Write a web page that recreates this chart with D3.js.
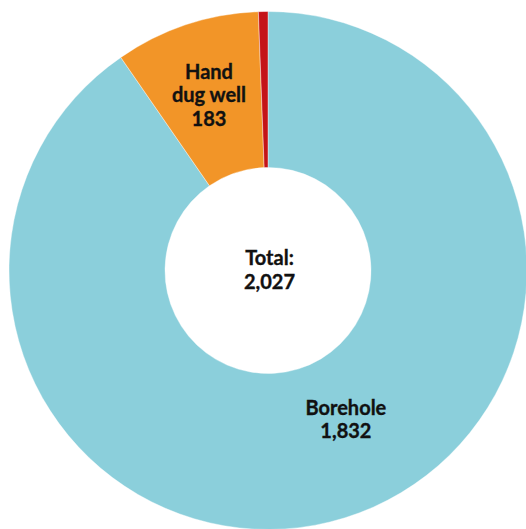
<!DOCTYPE html>
<html>
<head>
<meta charset="utf-8">
<script src="https://cdn.jsdelivr.net/npm/d3@7"></script>
<style>
  html, body { margin: 0; padding: 0; background: #fff; }
  svg { display: block; }
  text { font-family: Lato, "Liberation Sans", sans-serif; font-weight: 700; fill: #111; stroke: #111; stroke-width: 0.35; }
</style>
</head>
<body>
<svg id="chart" width="526" height="529"></svg>
<script>
// Water point sources
const categories = ["Borehole", "Hand dug well", "Other"];
const values = [1832, 183, 12];
const labelLines = [["Borehole", "1,832"], ["Hand", "dug well", "183"], []];
const colors = ["#8bcfdb", "#f29528", "#c41418"];
const totalLines = ["Total:", "2,027"];

const width = 526, height = 529;
const cx = 268, cy = 270.5;
const outerR = 259, innerR = 103;

const svg = d3.select("#chart");
const g = svg.append("g").attr("transform", `translate(${cx},${cy})`);

const pie = d3.pie().sort(null).value(d => d)(values);
const arc = d3.arc().innerRadius(innerR).outerRadius(outerR);

g.selectAll("path.slice")
  .data(pie)
  .join("path")
  .attr("class", "slice")
  .attr("d", arc)
  .attr("fill", (d, i) => colors[i])
  .attr("stroke", "#fff")
  .attr("stroke-width", 0.4);

// label anchors: radius and angular nudge per slice
const labelPos = [
  { r: 168, shift: -0.18 },
  { r: 185, shift: -0.004 },
  null
];
const lineH = 23.5;
const fontSize = 20;

pie.forEach((d, i) => {
  const lines = labelLines[i];
  if (!lines.length) return;
  const a = (d.startAngle + d.endAngle) / 2 + labelPos[i].shift;
  const x = Math.sin(a) * labelPos[i].r;
  const y = -Math.cos(a) * labelPos[i].r;
  const t = g.append("text")
    .attr("text-anchor", "middle")
    .attr("font-size", fontSize)
    .attr("x", x)
    .attr("y", y - (lines.length - 1) * lineH / 2 + fontSize * 0.36);
  lines.forEach((s, k) => {
    t.append("tspan").attr("x", x).attr("dy", k === 0 ? 0 : lineH).text(s);
  });
});

// centre total
const tt = g.append("text")
  .attr("text-anchor", "middle")
  .attr("font-size", fontSize)
  .attr("x", 1.5)
  .attr("y", -5.5);
totalLines.forEach((s, k) => {
  tt.append("tspan").attr("x", 1.5).attr("dy", k === 0 ? 0 : 24).text(s);
});
</script>
</body>
</html>
